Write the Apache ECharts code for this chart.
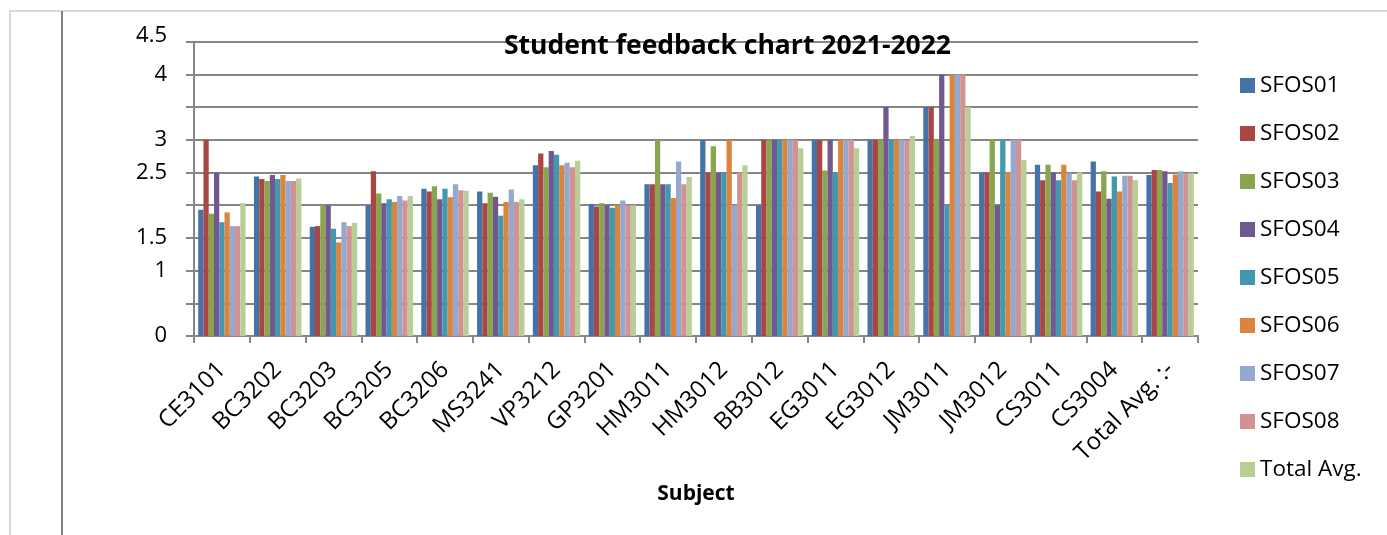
<!DOCTYPE html>
<html>
<head>
<meta charset="utf-8">
<script src="https://cdn.jsdelivr.net/npm/echarts@6/dist/echarts.min.js"></script>
<style>
html,body{margin:0;padding:0;background:#fff;}
#chart{width:1387px;height:535px;}
</style>
</head>
<body>
<div id="chart"></div>
<script>
var categories = ['CE3101','BC3202','BC3203','BC3205','BC3206','MS3241','VP3212','GP3201','HM3011','HM3012','BB3012','EG3011','EG3012','JM3011','JM3012','CS3011','CS3004','Total Avg. :-'];
var seriesNames = ['SFOS01','SFOS02','SFOS03','SFOS04','SFOS05','SFOS06','SFOS07','SFOS08','Total Avg.'];
var sfos01 = [1.93, 2.44, 1.67, 2.00, 2.25, 2.21, 2.61, 2.02, 2.32, 3.00, 2.00, 3.00, 3.00, 3.50, 2.50, 2.62, 2.67, 2.46];
var sfos02 = [3.00, 2.40, 1.68, 2.52, 2.21, 2.03, 2.79, 1.98, 2.32, 2.50, 3.00, 3.00, 3.00, 3.50, 2.50, 2.38, 2.21, 2.54];
var sfos03 = [1.87, 2.37, 2.00, 2.18, 2.29, 2.19, 2.58, 2.03, 3.00, 2.90, 3.00, 2.53, 3.00, 3.00, 3.00, 2.62, 2.52, 2.54];
var sfos04 = [2.50, 2.46, 2.00, 2.03, 2.09, 2.13, 2.83, 2.00, 2.32, 2.50, 3.00, 3.00, 3.50, 4.00, 2.00, 2.50, 2.10, 2.52];
var sfos05 = [1.74, 2.40, 1.64, 2.09, 2.25, 1.84, 2.77, 1.96, 2.32, 2.50, 3.00, 2.50, 3.00, 2.00, 3.00, 2.38, 2.44, 2.34];
var sfos06 = [1.89, 2.46, 1.43, 2.05, 2.12, 2.05, 2.61, 2.00, 2.11, 3.00, 3.00, 3.00, 3.00, 4.00, 2.50, 2.62, 2.21, 2.47];
var sfos07 = [1.68, 2.37, 1.74, 2.14, 2.32, 2.24, 2.65, 2.07, 2.67, 2.00, 3.00, 3.00, 3.00, 4.00, 3.00, 2.49, 2.45, 2.52];
var sfos08 = [1.68, 2.37, 1.68, 2.07, 2.23, 2.05, 2.58, 2.00, 2.32, 2.50, 3.00, 3.00, 3.00, 4.00, 3.00, 2.38, 2.45, 2.49];
var totalAvg = [2.03, 2.41, 1.73, 2.14, 2.22, 2.09, 2.68, 2.00, 2.43, 2.61, 2.87, 2.87, 3.06, 3.50, 2.69, 2.50, 2.38, 2.49];
var yHidden = [0.5, 2, 3.5];

var colors = ['#4572A7','#AA4643','#89A54E','#71588F','#4198AF','#DB843D','#93A9CF','#D19392','#B9CD96'];
var allData = [sfos01, sfos02, sfos03, sfos04, sfos05, sfos06, sfos07, sfos08, totalAvg];
var FONT = 'Open Sans';

var chart = echarts.init(document.getElementById('chart'), null, {renderer: 'canvas'});
var series = seriesNames.map(function (n, i) {
  return {
    name: n, type: 'bar', data: allData[i],
    barGap: '0%', barCategoryGap: '15%',
    itemStyle: {color: colors[i]},
    animation: false
  };
});

chart.setOption({
  animation: false,
  backgroundColor: '#ffffff',
  color: colors,
  title: {
    text: 'Student feedback chart 2021-2022',
    left: 499, top: 28,
    textStyle: {fontFamily: FONT, fontWeight: 'bold', fontSize: 26.5, color: '#000'}
  },
  legend: {
    orient: 'vertical', left: 1240, top: 74, padding: 0,
    itemWidth: 15, itemHeight: 15, itemGap: 25,
    icon: 'rect',
    textStyle: {fontFamily: FONT, fontSize: 22.5, color: '#000', lineHeight: 22, padding: [0,0,0,0]},
    data: seriesNames
  },
  grid: {left: 194, top: 41.7, right: 189, bottom: 199, containLabel: false},
  xAxis: {
    type: 'category', data: categories,
    name: 'Subject', nameLocation: 'middle', nameGap: 148,
    nameTextStyle: {fontFamily: FONT, fontWeight: 'bold', fontSize: 21, color: '#000'},
    axisLine: {lineStyle: {color: '#868686', width: 2}},
    axisTick: {show: true, length: 7, lineStyle: {color: '#868686', width: 2}, alignWithLabel: false},
    axisLabel: {rotate: 45, interval: 0, margin: 30, fontFamily: FONT, fontSize: 24, color: '#000'}
  },
  yAxis: {
    type: 'value', min: 0, max: 4.5, interval: 0.5,
    axisLine: {show: true, lineStyle: {color: '#868686', width: 2}},
    axisTick: {show: true, length: 8, lineStyle: {color: '#868686', width: 2}},
    splitLine: {show: true, lineStyle: {color: '#868686', width: 2}},
    axisLabel: {
      margin: 27, fontFamily: FONT, fontSize: 22, color: '#000',
      formatter: function (v) {
        for (var k = 0; k < yHidden.length; k++) { if (Math.abs(v - yHidden[k]) < 1e-6) return ''; }
        if (Math.abs(v - 4.5) < 1e-6) return '{top|4.5}';
        return String(v);
      },
      rich: {top: {fontFamily: FONT, fontSize: 22, color: '#000', padding: [0, 0, 12, 0]}}
    }
  },
  graphic: [
    {type: 'rect', shape: {x: 10, y: 11, width: 1400, height: 560}, style: {fill: 'none', stroke: '#d9d9d9', lineWidth: 2}, silent: true, z: -1},
    {type: 'line', shape: {x1: 62, y1: 11, x2: 62, y2: 535}, style: {stroke: '#808080', lineWidth: 2}, silent: true}
  ],
  series: series
});
</script>
</body>
</html>
